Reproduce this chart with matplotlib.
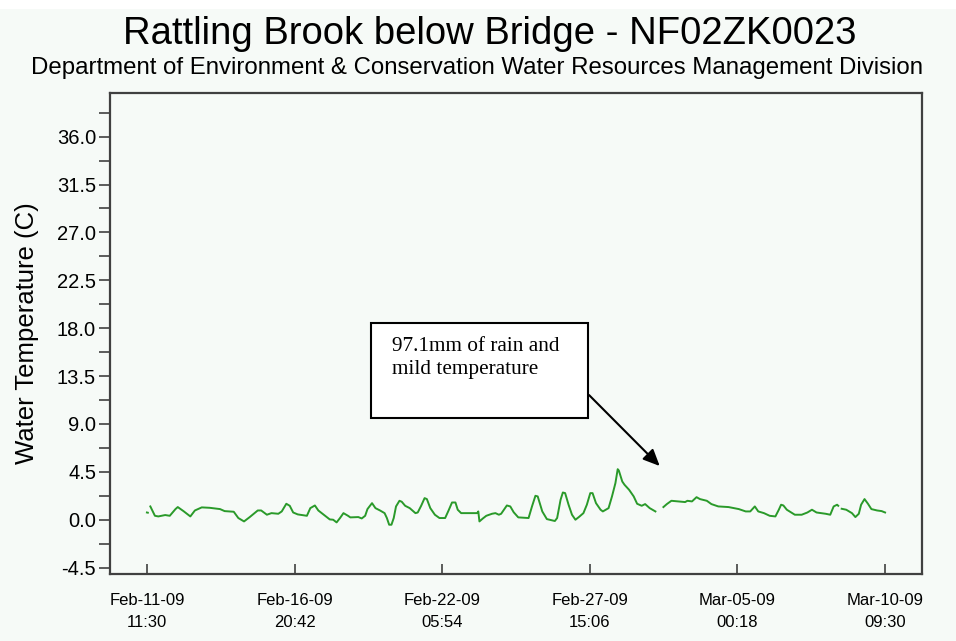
import numpy as np
import matplotlib
matplotlib.use("Agg")
import matplotlib.pyplot as plt
import matplotlib.dates as mdates
from matplotlib.patches import Rectangle
from matplotlib.ticker import MultipleLocator, FormatStrFormatter
import datetime as dt

plt.rcParams['font.family'] = ['Liberation Sans', 'DejaVu Sans']

# ---- data ----
title = "Rattling Brook below Bridge - NF02ZK0023"
subtitle = "Department of Environment & Conservation Water Resources Management Division"
ylabel = "Water Temperature (C)"
note = "97.1mm of rain and\nmild temperature"

start_time = dt.datetime(2009, 2, 11, 11, 30)
end_time = dt.datetime(2009, 3, 10, 9, 30)
n_xticks = 6

# hours since Feb-11-09 11:30
hours = [0, 0.8, 1.5, 3, 7, 10, 16, 20, 25, 27, 32, 38, 42, 48, 55, 64, 68, 76, 80, 85,
         90, 97, 100, 105, 109, 115, 118, 122, 125, 128, 132, 140, 143, 147, 150, 156,
         160, 163, 166, 169, 172, 176, 178, 185, 188, 191, 193, 197, 200, 204, 208, 210,
         212, 214, 216, 218, 221, 223, 226, 230, 235, 237, 240, 243, 245, 248, 252, 256,
         261, 264, 267, 270, 272, 275, 289, 290, 291, 294, 297, 302, 305, 308, 310, 315,
         318, 321, 325, 334, 337, 340, 342, 346, 350, 357, 359, 362, 364, 366, 369, 372,
         375, 378, 382, 385, 388, 390, 393, 397, 399, 404, 407, 410, 412, 413, 416, 418,
         422, 426, 429, 433, 436, 440, 445, 450, 452, 455, 459, 471, 473, 477, 481, 484,
         490, 494, 500, 509, 518, 524, 528, 532, 535, 540, 545, 550, 553, 555, 557, 560,
         567, 573, 578, 582, 586, 594, 598, 601, 604, 605, 606, 608, 612, 617, 620, 623,
         625, 628, 631, 634, 639, 643, 646]
nan = np.nan
temps = [0.68, 0.66, nan, 1.25, 0.37, 0.31, 0.44, 0.37, 1.00, 1.19, 0.81, 0.31, 0.87, 1.16, 1.12, 1.00, 0.81, 0.75, 0.16, -0.16,
         0.25, 0.87, 0.87, 0.47, 0.62, 0.56, 0.78, 1.50, 1.31, 0.68, 0.50, 0.37, 1.09, 1.34, 0.87, 0.37,
         0.03, 0.00, -0.25, 0.16, 0.62, 0.37, 0.22, 0.25, 0.12, 0.37, 1.00, 1.56, 1.09, 0.87, 0.62, 0.16,
         -0.47, -0.47, 0.16, 1.25, 1.78, 1.69, 1.31, 1.09, 0.62, 0.68, 1.31, 2.03, 1.94, 1.09, 0.47, 0.16,
         0.16, 0.87, 1.62, 1.62, 0.94, 0.62, 0.62, 0.78, -0.16, 0.12, 0.37, 0.56, 0.62, 0.47, 0.56, 1.34,
         1.25, 0.70, 0.22, 0.16, 1.25, 2.25, 2.19, 0.78, 0.06, -0.12, 0.16, 1.87, 2.56, 2.50, 1.41, 0.47,
         0.00, 0.25, 0.62, 1.41, 2.50, 2.50, 1.56, 0.94, 0.78, 1.09, 2.19, 3.44, 4.75, 4.62, 3.59, 3.28,
         2.81, 2.19, 1.50, 1.31, 1.47, 1.09, 0.78, nan, 1.19, 1.47, 1.78, 1.66, 1.78, 1.72, 2.12, 1.94,
         1.78, 1.47, 1.25, 1.19, 1.00, 0.78, 0.78, 1.25, 0.78, 0.62, 0.37, 0.31, 0.94, 1.41, 1.34, 0.94,
         0.47, 0.47, 0.68, 0.94, 0.68, 0.56, 0.47, 1.25, 1.41, 1.31, nan, 1.03, 0.94, 0.62, 0.25, 0.56,
         1.41, 1.94, 1.50, 1.00, 0.87, 0.81, 0.68]

ytick_min, ytick_max, ytick_step = -4.5, 36.0, 4.5
ylim = (-5.1, 40.1)

# ---- figure ----
bg = '#f6faf7'
fig = plt.figure(figsize=(9.56, 6.41), dpi=100, facecolor=bg)
fig.patches.append(Rectangle((0, 1 - 9/641), 1, 9/641, transform=fig.transFigure,
                             facecolor='white', edgecolor='none', zorder=0))
ax = fig.add_axes([110/956, 67/641, 812/956, 481/641])
ax.set_facecolor(bg)

times = [start_time + dt.timedelta(hours=h) for h in hours]
ax.plot(times, temps, color='#2a9a2a', lw=1.4, solid_joinstyle='round')

total = end_time - start_time
pad = total * 0.05
ax.set_xlim(start_time - pad, end_time + pad)
ax.set_ylim(*ylim)

xt = [start_time + total * k / (n_xticks - 1) for k in range(n_xticks)]
ax.set_xticks(xt)
ax.xaxis.set_major_formatter(mdates.DateFormatter('%b-%d-%y\n%H:%M'))
ax.tick_params(axis='x', direction='in', length=7, width=1.2, color='#404040',
               labelsize=12, pad=14)
for lab in ax.get_xticklabels():
    lab.set_linespacing(1.55)

ax.set_yticks(np.arange(ytick_min, ytick_max + 0.01, ytick_step))
ax.yaxis.set_minor_locator(MultipleLocator(ytick_step / 2))
ax.yaxis.set_major_formatter(FormatStrFormatter('%.1f'))
ax.tick_params(axis='y', which='both', direction='out', length=8, width=1.2,
               color='#404040', labelsize=14.5, pad=2)

for s in ax.spines.values():
    s.set_color('#404040')
    s.set_linewidth(1.6)

ax.set_ylabel(ylabel, fontsize=18.5, labelpad=13)

fig.text(490/956, 1 - 34/641, title, ha='center', va='center', fontsize=27.5)
fig.text(477/956, 1 - 68/641, subtitle, ha='center', va='center', fontsize=17.3)

# annotation box and arrow
ax.add_patch(Rectangle((0.322, 0.324), 0.267, 0.1985, transform=ax.transAxes,
                       facecolor='white', edgecolor='black', lw=1.5, zorder=5))
ax.text(0.347, 0.492, note, transform=ax.transAxes, ha='left', va='top',
        fontsize=15.3, family=['Liberation Serif'], linespacing=1.25, zorder=6)
ax.annotate('', xy=(0.677, 0.2245), xytext=(0.590, 0.372),
            xycoords='axes fraction', textcoords='axes fraction',
            arrowprops=dict(arrowstyle='-|>,head_length=1.0,head_width=0.45',
                            color='black', lw=1.5, shrinkA=0, shrinkB=0), zorder=6)

fig.savefig('out.png', dpi=100, facecolor=bg)
